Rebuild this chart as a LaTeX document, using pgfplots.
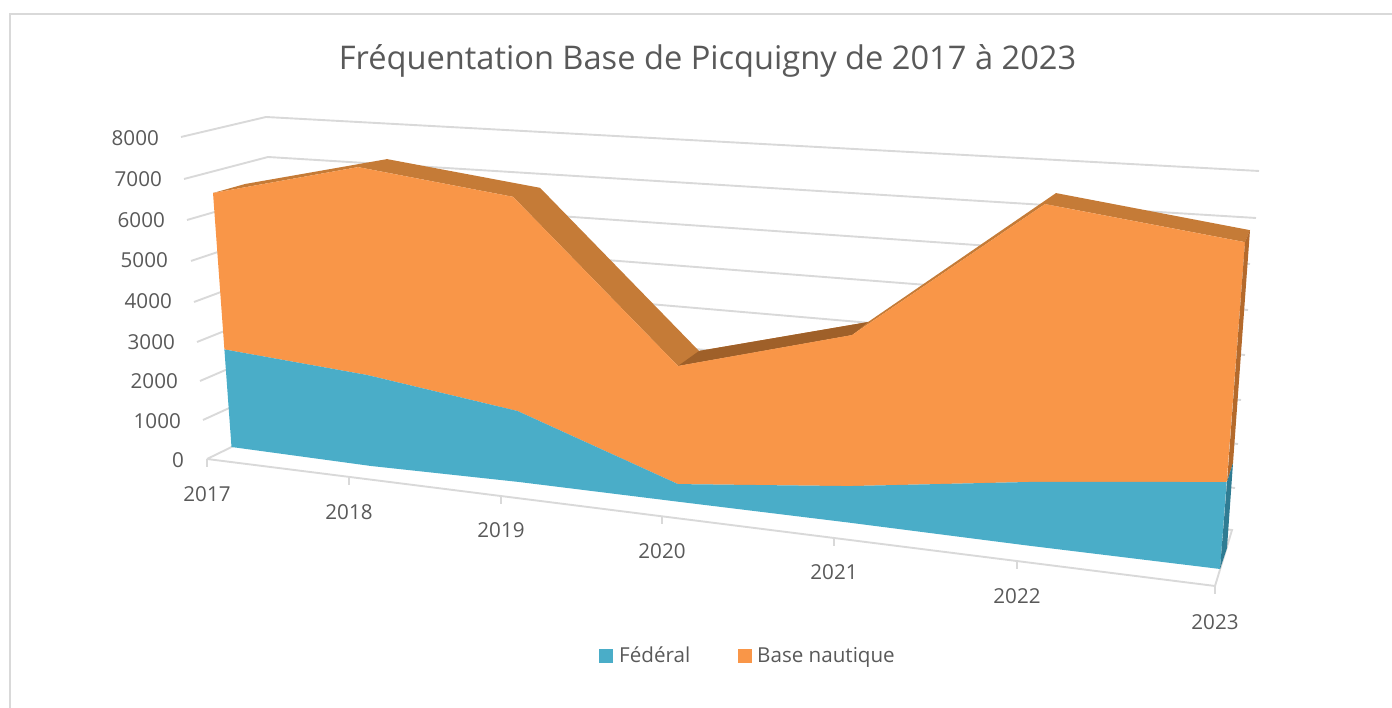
\documentclass[border=0pt]{standalone}
\usepackage{fontspec}
\setmainfont{Open Sans}
\usepackage{pgfplots}
\usepackage{pgfplotstable}
\pgfplotsset{compat=1.18}
\usepgfplotslibrary{fillbetween}
\definecolor{teal3d}{HTML}{4AADC8}
\definecolor{orange3d}{HTML}{F99648}
\definecolor{topface}{HTML}{C57B37}
\definecolor{topdark}{HTML}{9F6029}
\definecolor{sideorange}{HTML}{B46A2C}
\definecolor{sideteal}{HTML}{2F7C93}
\definecolor{gridc}{HTML}{D9D9D9}
\definecolor{textc}{HTML}{595959}
% values (fed, tot = stacked total) with the perspective anchors of each year:
% (xb,yb) is where value 0 falls, (xt,yt) where value 8000 falls; (dx,dy) is the depth of the top face
\pgfplotstableread{
year xb yb xt yt fed tot dx dy
2017 231.5 447 208.5 131 2470 6430 32 -9
2018 371 466 356.8 138 2220 7290 29 -8
2019 519 482 511.9 142 1670 6710 27 -9
2020 678 501.7 678 149.7 400 3085 21 -15
2021 848 522.5 855.8 158.5 800 4120 16 -13
2022 1028 545.6 1046.9 165.6 1340 7190 11 -11
2023 1220 569 1250 177 1775 6670 5 -12
}\chartdata
\newcommand\PX[1]{\thisrow{xb}+(\thisrow{xt}-\thisrow{xb})*(#1)/8000}
\newcommand\PY[1]{\thisrow{yb}+(\thisrow{yt}-\thisrow{yb})*(#1)/8000}
\newcommand\lab[1]{\fontsize{20.6}{24}\selectfont #1}
\pgfplotsset{gl/.style={color=gridc, line width=1.9pt, on layer=axis background}}
\begin{document}
\begin{tikzpicture}
\begin{axis}[
  set layers,
  scale only axis, width=1392pt, height=708pt,
  xmin=0, xmax=1392, ymin=0, ymax=708, y dir=reverse,
  hide axis, clip=true,
  every axis plot/.append style={forget plot},
]
% frame
\addplot[gl] coordinates {(10,708) (10,14) (1392,14)};
% walls and gridlines
\addplot[gl] coordinates {(181,137) (266,117) (1259,171)};
\addplot[gl] coordinates {(184,179) (268,157) (1256,218)};
\addplot[gl] coordinates {(187,220) (270,196) (1250,264)};
\addplot[gl] coordinates {(191,261) (272,234) (1248,310)};
\addplot[gl] coordinates {(194,302) (275,272) (1245,355)};
\addplot[gl] coordinates {(197,342) (277,310) (1241,400)};
\addplot[gl] coordinates {(200,381) (279,347) (1238,444)};
\addplot[gl] coordinates {(203,420) (282,384) (1235,488)};
\addplot[gl] coordinates {(207,459) (285,421) (1232,530) (1215,586) (207,459)};
% tick marks
\addplot[gl] coordinates {(207,459) (207,467)};
\addplot[gl] coordinates {(349,477) (349,485)};
\addplot[gl] coordinates {(501,496) (501,504)};
\addplot[gl] coordinates {(662,516) (662,524)};
\addplot[gl] coordinates {(834,538) (834,546)};
\addplot[gl] coordinates {(1017,561) (1017,569)};
\addplot[gl] coordinates {(1215,586) (1215,594)};
% paths
\addplot[draw=none, name path=p0] table[x expr={\PX{0}}, y expr={\PY{0}}] {\chartdata};
\addplot[draw=none, name path=p1] table[x expr={\PX{\thisrow{fed}}}, y expr={\PY{\thisrow{fed}}}] {\chartdata};
\addplot[draw=none, name path=p2] table[x expr={\PX{\thisrow{tot}}}, y expr={\PY{\thisrow{tot}}}] {\chartdata};
\addplot[draw=none, name path=p3] table[x expr={\PX{\thisrow{tot}}+\thisrow{dx}}, y expr={\PY{\thisrow{tot}}+\thisrow{dy}}] {\chartdata};
\addplot[draw=none, name path=q2, skip coords between index={0}{3}, skip coords between index={5}{7}] table[x expr={\PX{\thisrow{tot}}}, y expr={\PY{\thisrow{tot}}}] {\chartdata};
\addplot[draw=none, name path=q3, skip coords between index={0}{3}, skip coords between index={5}{7}] table[x expr={\PX{\thisrow{tot}}+\thisrow{dx}}, y expr={\PY{\thisrow{tot}}+\thisrow{dy}}] {\chartdata};
% top face
\addplot[fill=topface, draw=none] fill between[of=p2 and p3];
\addplot[fill=topdark, draw=none] fill between[of=q2 and q3];
% areas
\addplot[fill=orange3d, draw=none] fill between[of=p1 and p2];
\addplot[fill=teal3d, draw=none] fill between[of=p0 and p1];
% side faces of 2023
\addplot[fill=sideorange, draw=none] coordinates {(1245,242) (1250,230) (1233,463) (1227,482)} -- cycle;
\addplot[fill=sideteal, draw=none] coordinates {(1227,482) (1233,463) (1227,548) (1220,569)} -- cycle;
% legend swatches
\addplot[fill=teal3d, draw=none] coordinates {(599,649) (613,649) (613,663) (599,663)} -- cycle;
\addplot[fill=orange3d, draw=none] coordinates {(738,649) (752,649) (752,663) (738,663)} -- cycle;
% text
\node[text=textc] at (axis cs:707.5,60.5) {\fontsize{32.6}{38}\selectfont Fréquentation Base de Picquigny de 2017 à 2023};
\node[text=textc, anchor=base west, inner sep=0pt] at (axis cs:619,663) {\lab{Fédéral}};
\node[text=textc, anchor=base west, inner sep=0pt] at (axis cs:757,663) {\lab{Base nautique}};
\node[text=textc, anchor=east, inner sep=0pt] at (axis cs:159,138) {\lab{8000}};
\node[text=textc, anchor=east, inner sep=0pt] at (axis cs:162,179) {\lab{7000}};
\node[text=textc, anchor=east, inner sep=0pt] at (axis cs:165,220) {\lab{6000}};
\node[text=textc, anchor=east, inner sep=0pt] at (axis cs:168,260) {\lab{5000}};
\node[text=textc, anchor=east, inner sep=0pt] at (axis cs:172,301) {\lab{4000}};
\node[text=textc, anchor=east, inner sep=0pt] at (axis cs:175,342) {\lab{3000}};
\node[text=textc, anchor=east, inner sep=0pt] at (axis cs:178,381) {\lab{2000}};
\node[text=textc, anchor=east, inner sep=0pt] at (axis cs:181,421) {\lab{1000}};
\node[text=textc, anchor=east, inner sep=0pt] at (axis cs:184,460) {\lab{0}};
\node[text=textc, inner sep=0pt] at (axis cs:207,494) {\lab{2017}};
\node[text=textc, inner sep=0pt] at (axis cs:349,512) {\lab{2018}};
\node[text=textc, inner sep=0pt] at (axis cs:501,530) {\lab{2019}};
\node[text=textc, inner sep=0pt] at (axis cs:662,551) {\lab{2020}};
\node[text=textc, inner sep=0pt] at (axis cs:834,572) {\lab{2021}};
\node[text=textc, inner sep=0pt] at (axis cs:1017,596) {\lab{2022}};
\node[text=textc, inner sep=0pt] at (axis cs:1215,622) {\lab{2023}};
\end{axis}
\end{tikzpicture}
\end{document}
